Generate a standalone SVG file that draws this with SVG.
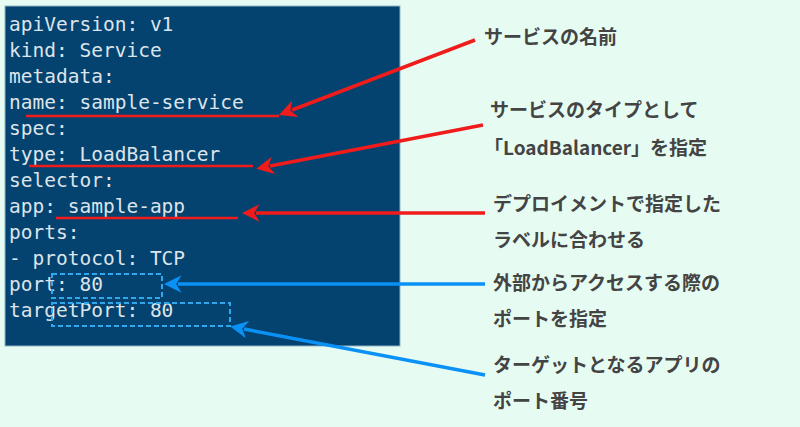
<svg xmlns="http://www.w3.org/2000/svg" width="800" height="427" viewBox="0 0 800 427">
<defs>
<marker id="ar" viewBox="0 0 10 10" refX="2" refY="5" markerWidth="5" markerHeight="5" orient="auto-start-reverse" markerUnits="strokeWidth"><path d="M0,0 L10,5 L0,10 L3,5 z" fill="context-stroke"/></marker>
<marker id="ar" viewBox="0 0 10 10" refX="2" refY="5" markerWidth="5" markerHeight="5" orient="auto-start-reverse"><path d="M0,0 L10,5 L0,10 L3,5 z" fill="#f01c1c"/></marker>
<marker id="ab" viewBox="0 0 10 10" refX="2" refY="5" markerWidth="5" markerHeight="5" orient="auto-start-reverse"><path d="M0,0 L10,5 L0,10 L3,5 z" fill="#0a91f5"/></marker>
</defs>
<style>
.code{font-family:"DejaVu Sans Mono","Liberation Mono",monospace;font-size:19.5px;fill:#dde4ea}
.lab{font-family:"Noto Sans CJK JP",sans-serif;font-size:19px;font-weight:bold;fill:#444}
.red{stroke:#f01c1c;stroke-width:3.5;fill:none}
.blue{stroke:#0a91f5;stroke-width:3.5;fill:none}
.dash{stroke:#2fa8f0;stroke-width:2;stroke-dasharray:5,3;fill:none}
</style>
<rect width="800" height="427" fill="#e6fcf2"/>
<g id="code">
<rect x="5" y="6" width="395" height="340" fill="#04426f" stroke="#8fb3c8" stroke-width="1"/>
<text class="code" x="9" y="31">apiVersion: v1</text>
<text class="code" x="9" y="57">kind: Service</text>
<text class="code" x="9" y="83">metadata:</text>
<text class="code" x="9" y="109">  name: sample-service</text>
<text class="code" x="9" y="135">spec:</text>
<text class="code" x="9" y="161">  type: LoadBalancer</text>
<text class="code" x="9" y="187">  selector:</text>
<text class="code" x="9" y="213">    app: sample-app</text>
<text class="code" x="9" y="239">  ports:</text>
<text class="code" x="9" y="265">  - protocol: TCP</text>
<text class="code" x="9" y="291">    port: 80</text>
<text class="code" x="9" y="317">    targetPort: 80</text>
<line class="red" x1="26" y1="116" x2="279" y2="116" style="stroke-width:2.5"/>
<line class="red" x1="29" y1="166" x2="253" y2="166" style="stroke-width:2.5"/>
<line class="red" x1="56" y1="218" x2="238" y2="218" style="stroke-width:2.5"/>
<rect class="dash" x="52" y="274" width="110" height="24"/>
<rect class="dash" x="52" y="303" width="178" height="23"/>
</g>
<g id="connectors">
<line class="red" x1="475" y1="40" x2="292" y2="110" marker-end="url(#ar)"/>
<line class="red" x1="483" y1="125" x2="270" y2="166" marker-end="url(#ar)"/>
<line class="red" x1="485" y1="213" x2="256" y2="213" marker-end="url(#ab)" style="display:none"/>
<line class="red" x1="485" y1="213" x2="256" y2="213" marker-end="url(#ar)"/>
<line class="blue" x1="485" y1="284" x2="178" y2="284" marker-end="url(#ab)"/>
<line class="blue" x1="485" y1="375" x2="244" y2="329" marker-end="url(#ab)"/>
</g>
<g id="labels">
<text class="lab" x="484" y="44">サービスの名前</text>
<text class="lab" x="490" y="117">サービスのタイプとして</text>
<text class="lab" x="484" y="155">「LoadBalancer」を指定</text>
<text class="lab" x="493" y="211">デプロイメントで指定した</text>
<text class="lab" x="493" y="247">ラベルに合わせる</text>
<text class="lab" x="493" y="290">外部からアクセスする際の</text>
<text class="lab" x="493" y="326">ポートを指定</text>
<text class="lab" x="493" y="372">ターゲットとなるアプリの</text>
<text class="lab" x="493" y="408">ポート番号</text>
</g>
</svg>
